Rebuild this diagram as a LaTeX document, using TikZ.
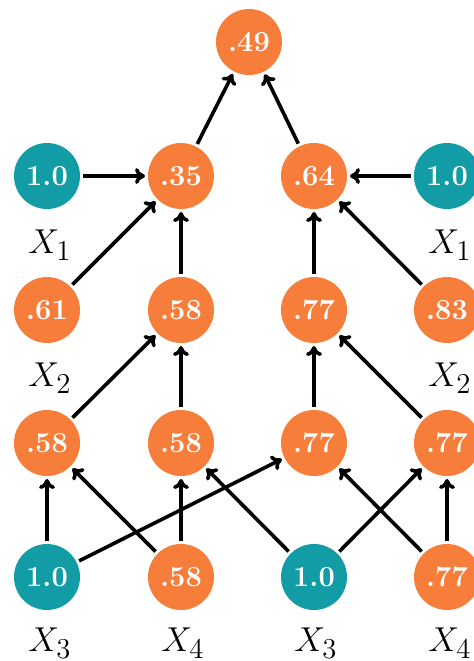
\documentclass[tikz,border=0pt]{standalone}
\usetikzlibrary{arrows.meta}
\definecolor{nodeorange}{RGB}{247,125,58}
\definecolor{nodeteal}{RGB}{18,156,166}
\begin{document}
\begin{tikzpicture}[x=0.5pt,y=-0.5pt,
  unit/.style={circle,minimum size=33pt,inner sep=0pt,outer sep=1.5pt,text=white,font=\fontsize{14.5}{16}\selectfont\bfseries},
  hid/.style={unit,fill=nodeorange},
  inp/.style={unit,fill=nodeteal},
  lab/.style={font=\fontsize{19}{22}\selectfont},
  edge/.style={line width=1.8pt,-{To[length=5pt,width=8pt]}}]
\useasboundingbox (0,0) rectangle (474,661);
% top
\node[hid] (t) at (249,42) {.49};
% row 1
\node[inp] (a1) at (47,176) {1.0};
\node[hid] (a2) at (181,176) {.35};
\node[hid] (a3) at (314,176) {.64};
\node[inp] (a4) at (447,176) {1.0};
% row 2
\node[hid] (b1) at (47,310) {.61};
\node[hid] (b2) at (181,310) {.58};
\node[hid] (b3) at (314,310) {.77};
\node[hid] (b4) at (447,310) {.83};
% row 3
\node[hid] (c1) at (47,443) {.58};
\node[hid] (c2) at (181,443) {.58};
\node[hid] (c3) at (314,443) {.77};
\node[hid] (c4) at (447,443) {.77};
% row 4
\node[inp] (d1) at (47,577) {1.0};
\node[hid] (d2) at (181,577) {.58};
\node[inp] (d3) at (314,577) {1.0};
\node[hid] (d4) at (447,577) {.77};
% labels
\node[lab] (l1) at (50,245) {$X_1$};
\node[lab] (l2) at (450,245) {$X_1$};
\node[lab] (l3) at (50,378) {$X_2$};
\node[lab] (l4) at (450,378) {$X_2$};
\node[lab] (l5) at (50,643) {$X_3$};
\node[lab] (l6) at (183,643) {$X_4$};
\node[lab] (l7) at (316,643) {$X_3$};
\node[lab] (l8) at (450,643) {$X_4$};
% edges
\draw[edge] (a2) -- (t);
\draw[edge] (a3) -- (t);
\draw[edge] (a1) -- (a2);
\draw[edge] (a4) -- (a3);
\draw[edge] (b1) -- (a2);
\draw[edge] (b2) -- (a2);
\draw[edge] (b3) -- (a3);
\draw[edge] (b4) -- (a3);
\draw[edge] (c1) -- (b2);
\draw[edge] (c2) -- (b2);
\draw[edge] (c3) -- (b3);
\draw[edge] (c4) -- (b3);
\draw[edge] (d1) -- (c1);
\draw[edge] (d1) -- (c3);
\draw[edge] (d2) -- (c1);
\draw[edge] (d2) -- (c2);
\draw[edge] (d3) -- (c2);
\draw[edge] (d3) -- (c4);
\draw[edge] (d4) -- (c3);
\draw[edge] (d4) -- (c4);
\end{tikzpicture}
\end{document}
